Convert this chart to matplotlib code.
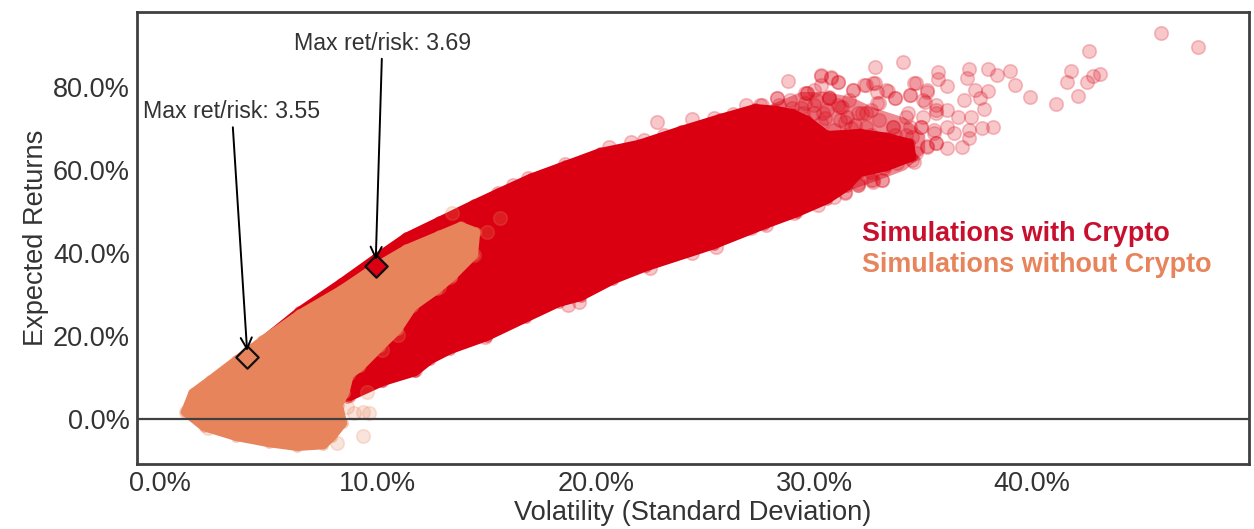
#!/usr/bin/env python3
"""Portfolio simulations with and without crypto, volatility vs expected return."""
import matplotlib
matplotlib.use("Agg")
import matplotlib.pyplot as plt

plt.rcParams["font.family"] = ["Liberation Sans", "DejaVu Sans"]

RED = "#db0011"
ORANGE = "#e8845c"
DARK = "#404040"

x_ticks = [0, 10, 20, 30, 40]
x_tick_labels = ["0.0%", "10.0%", "20.0%", "30.0%", "40.0%"]
y_ticks = [0, 20, 40, 60, 80]
y_tick_labels = ["0.0%", "20.0%", "40.0%", "60.0%", "80.0%"]

# dense body of each cloud (vol, ret in %)
red_body_vol = [8.6, 4.7, 6.4, 8.3, 9.9, 11.3, 12.8, 14.4, 15.5, 17.0, 18.6, 20.2, 22.0, 23.9, 25.7,
                27.3, 28.2, 29.0, 29.7, 30.6, 32.1, 33.3, 34.4, 34.5, 33.3, 32.1, 31.5, 30.6, 29.2,
                27.7, 25.4, 22.3, 20.8, 19.3, 18.3, 16.8, 15.0, 13.3, 12.4, 11.7, 10.2, 8.7]
red_body_ret = [5.1, 18.8, 26.0, 32.8, 38.8, 43.9, 47.7, 51.8, 54.5, 58.1, 61.2, 64.3, 66.3, 69.6, 72.5,
                74.9, 74.5, 73.7, 72.0, 68.4, 68.9, 68.0, 66.5, 63.1, 60.7, 59.3, 55.9, 52.8, 49.6,
                46.7, 41.9, 36.6, 33.5, 29.4, 28.0, 24.3, 19.8, 16.6, 14.2, 11.3, 8.9, 5.3]
orange_body_vol = [1.15, 1.5, 2.3, 3.5, 4.7, 6.4, 8.3, 9.8, 11.3, 12.8, 13.8, 14.5, 14.4, 13.4, 12.7,
                   11.6, 10.9, 10.1, 9.2, 8.7, 8.5, 8.2, 8.4, 7.9, 7.5, 6.3, 5.0, 3.5, 2.0]
orange_body_ret = [1.7, 6.3, 9.4, 14.2, 19.0, 25.3, 31.1, 36.4, 41.0, 44.3, 46.5, 45.1, 39.5, 34.2, 31.1,
                   27.0, 21.4, 17.3, 12.5, 10.6, 6.3, 3.4, -1.0, -4.3, -6.3, -6.7, -5.8, -4.3, -1.9]

# thinner zone where the red cloud starts to break up into single points
red_tail_vol = [28.0, 29.4, 30.5, 31.7, 32.8, 34.2, 35.1, 35.1, 34.2, 33.0, 31.7, 30.7, 28.9]
red_tail_ret = [75.7, 78.8, 78.8, 77.6, 74.9, 72.5, 68.4, 64.3, 60.0, 57.6, 55.2, 56.4, 64.8]

# single visible simulations outside the dense body
red_vol = [45.9, 47.6, 42.6, 41.8, 43.1, 42.8, 41.6, 42.5, 42.1, 41.1, 39.9, 39.2, 39.0, 38.4,
           38.0, 37.1, 37.0, 38.0, 37.4, 37.6, 37.8, 36.9, 35.7, 35.7, 36.1, 34.7, 34.1, 32.8,
           28.8, 30.3, 30.8, 31.1, 31.8, 32.4, 32.8, 33.4, 33.7, 35.2, 35.0, 34.4, 38.2, 37.7,
           37.1, 36.8, 37.1, 36.1, 35.6, 35.2, 36.4, 36.1, 37.2, 36.6, 36.1, 35.6, 35.0, 35.6,
           34.5, 33.1, 32.6, 32.0, 33.6, 33.0, 32.2, 31.5, 30.7, 30.0, 29.7, 34.2, 34.9, 35.5,
           34.5, 32.6, 30.4, 31.2,
           11.7, 10.2, 14.9, 19.2, 18.7, 22.5, 24.4, 25.5, 27.1, 27.8, 29.1, 30.2, 31.4, 32.0,
           32.7, 22.8, 23.1, 18.6, 16.9, 16.2, 15.5, 16.9, 18.0, 20.0, 20.6, 21.6, 22.2, 24.4,
           25.4, 26.3, 26.9, 27.5, 28.3, 29.6, 30.7,
           30.3, 30.8, 31.1, 30.3, 29.7, 28.3, 27.6, 28.4, 29.0, 29.6, 30.1, 30.7, 31.8, 31.6,
           32.3, 32.7, 32.9, 33.3, 33.7, 32.9, 34.4, 35.2, 34.6, 35.1, 35.6, 34.3, 33.6, 32.4,
           32.0, 31.3, 30.6, 31.2, 30.0, 31.7, 32.4, 33.0, 34.4, 34.9, 35.5, 35.2, 34.7, 35.6,
           32.7, 33.1, 32.0, 33.2, 32.6, 33.8, 34.6, 31.4, 30.9, 30.9, 31.5, 30.3, 29.5,
           28.9, 29.4, 30.0, 30.5, 31.4, 31.9, 31.1, 32.6, 33.7, 34.2]
red_ret = [93.1, 89.7, 88.7, 83.9, 83.1, 82.7, 81.3, 81.3, 77.9, 75.9, 77.5, 80.4, 83.8, 82.8,
           84.4, 84.3, 82.2, 79.1, 79.3, 77.3, 74.7, 76.9, 83.6, 81.9, 80.2, 81.0, 86.0, 84.7,
           81.5, 82.7, 82.2, 81.3, 79.3, 80.4, 81.0, 79.1, 77.3, 79.3, 76.9, 78.1, 70.4, 70.0,
           69.6, 65.6, 67.7, 65.3, 66.5, 65.8, 68.9, 70.4, 72.8, 72.8, 74.5, 73.7, 72.8, 75.7,
           62.4, 57.6, 57.6, 56.9, 70.4, 76.1, 73.7, 72.8, 77.3, 79.3, 78.6, 72.8, 70.4, 68.9,
           68.0, 74.5, 73.7, 75.2,
           11.8, 9.4, 19.8, 28.2, 27.5, 36.4, 40.0, 41.4, 46.0, 46.7, 49.6, 51.6, 54.5, 56.4,
           57.6, 71.6, 68.4, 61.4, 53.5, 56.4, 54.5, 58.1, 58.8, 63.1, 65.5, 66.7, 67.2, 72.3,
           72.5, 73.5, 75.7, 75.7, 77.3, 78.6, 77.6,
           82.9, 82.4, 81.2, 80.5, 78.6, 77.3, 75.7, 75.7, 74.9, 76.1, 76.9, 77.3, 79.3, 76.9,
           80.5, 81.0, 78.8, 79.3, 77.3, 76.1, 78.1, 78.8, 81.0, 76.4, 74.5, 73.7, 70.4, 73.7,
           73.7, 75.2, 74.5, 72.0, 73.7, 70.1, 70.4, 72.0, 70.4, 70.4, 69.6, 65.5, 64.1, 66.5,
           57.1, 57.6, 56.4, 60.5, 59.5, 61.7, 61.9, 54.7, 53.5, 69.6, 67.2, 71.3, 73.7,
           76.9, 74.9, 75.7, 72.5, 71.6, 70.8, 75.7, 68.4, 68.4, 68.4]
orange_vol = [8.1, 9.3, 9.6, 9.3, 8.9, 8.6, 9.5, 2.2, 1.2, 15.6, 15.0, 14.4, 13.3, 12.8, 10.9,
              10.2, 14.2, 13.4]
orange_ret = [-5.8, -4.1, 1.4, 1.7, 1.4, 2.9, 6.5, -2.2, 1.7, 48.4, 45.0, 39.5, 34.2, 31.8, 20.2,
              16.6, 44.8, 49.6]

# max return/risk portfolios
best_vol = [4.0, 9.9]
best_ret = [15.0, 36.9]
best_labels = ["Max ret/risk: 3.55", "Max ret/risk: 3.69"]
best_text_vol = [3.3, 10.2]
best_text_ret = [71.3, 87.8]


def cloud(ax, body_vol, body_ret, vol, ret, color, z):
    ax.fill(body_vol, body_ret, color=color, linewidth=6, joinstyle="round", zorder=z)
    ax.scatter(body_vol, body_ret, s=60, color=color, alpha=0.45, linewidths=0, zorder=z)
    ax.scatter(vol, ret, s=95, facecolor=color, edgecolor=color, alpha=0.22, linewidths=1.2, zorder=z)


fig = plt.figure(figsize=(12.54, 5.29), dpi=100)
ax = fig.add_axes([137 / 1254, 1 - 464 / 529, (1249 - 137) / 1254, (464 - 12) / 529])

ax.fill(red_tail_vol, red_tail_ret, color=RED, alpha=0.45, linewidth=0, zorder=2)
cloud(ax, red_body_vol, red_body_ret, red_vol, red_ret, RED, 2)
cloud(ax, orange_body_vol, orange_body_ret, orange_vol, orange_ret, ORANGE, 3)

ax.axhline(0, color=DARK, linewidth=1.6, zorder=4)
ax.scatter(best_vol[0], best_ret[0], marker="D", s=130, facecolor=ORANGE, edgecolor="#111111", linewidths=1.6, zorder=5)
ax.scatter(best_vol[1], best_ret[1], marker="D", s=130, facecolor=RED, edgecolor="#111111", linewidths=1.6, zorder=5)

for i in range(2):
    ax.annotate(best_labels[i], xy=(best_vol[i], best_ret[i] + 1.4), xytext=(best_text_vol[i], best_text_ret[i]),
                ha="center", va="bottom", fontsize=16.7, color="#333333", zorder=6,
                arrowprops=dict(arrowstyle="->", color="black", lw=1.4, mutation_scale=20, shrinkA=1, shrinkB=0))

ax.text(32.2, 44.5, "Simulations with Crypto", color="#c8102e", fontsize=19.4, fontweight="bold", va="center")
ax.text(32.2, 37.0, "Simulations without Crypto", color=ORANGE, fontsize=19.4, fontweight="bold", va="center")

ax.set_xlim(-1.05, 49.95)
ax.set_ylim(-10.84, 98.07)
ax.set_xticks(x_ticks, x_tick_labels)
ax.set_yticks(y_ticks, y_tick_labels)
ax.tick_params(length=0, labelsize=19.5, labelcolor="#333333", pad=5)
ax.set_xlabel("Volatility (Standard Deviation)", fontsize=19.6, color="#333333", labelpad=2)
ax.set_ylabel("Expected Returns", fontsize=19.6, color="#333333", labelpad=3)
for s in ax.spines.values():
    s.set_color(DARK)
    s.set_linewidth(2)

fig.savefig("out.png", dpi=100, facecolor="white")
